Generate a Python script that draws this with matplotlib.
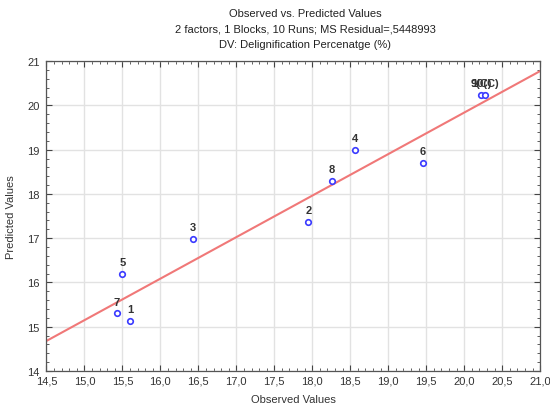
import matplotlib
matplotlib.use("Agg")
import matplotlib.pyplot as plt
import numpy as np
from matplotlib.ticker import MultipleLocator, FuncFormatter

plt.rcParams['font.family'] = ['Liberation Sans', 'DejaVu Sans']

run_labels = ["1", "2", "3", "4", "5", "6", "7", "8", "9(C)", "10(C)"]
observed = [15.60, 17.95, 16.43, 18.56, 15.50, 19.46, 15.43, 18.26, 20.22, 20.27]
predicted = [15.14, 17.36, 16.98, 19.00, 16.19, 18.69, 15.30, 18.30, 20.24, 20.24]

title_lines = ["Observed vs. Predicted Values",
               "2 factors, 1 Blocks, 10 Runs; MS Residual=,5448993",
               "DV: Delignification Percenatge (%)"]

fig = plt.figure(figsize=(5.5, 4.14), dpi=100)
ax = fig.add_axes([0.0845, 0.1014, 0.8975, 0.7486])

xmin, xmax = 14.5, 21.0
ax.set_xlim(xmin, xmax)
ax.set_ylim(14, 21)

# regression line of predicted on observed
coef = np.polyfit(observed, predicted, 1)
xl = np.array([xmin, xmax])
ax.plot(xl, np.polyval(coef, xl), color='#f07878', lw=1.5, zorder=2)

ax.scatter(observed, predicted, s=16, facecolors='white', edgecolors='#3a3aff',
           linewidths=1.2, zorder=3)
for lab, xo, yo in zip(run_labels, observed, predicted):
    ax.annotate(lab, (xo, yo), xytext=(0, 5), textcoords='offset points',
                ha='center', va='bottom', fontsize=8, color='#333333',
                fontweight='bold', zorder=4)

ax.xaxis.set_major_locator(MultipleLocator(0.5))
ax.xaxis.set_minor_locator(MultipleLocator(0.1))
ax.yaxis.set_major_locator(MultipleLocator(1))
ax.yaxis.set_minor_locator(MultipleLocator(0.2))
ax.xaxis.set_major_formatter(FuncFormatter(lambda v, p: f"{v:.1f}".replace('.', ',')))
ax.yaxis.set_major_formatter(FuncFormatter(lambda v, p: f"{v:.0f}"))

ax.grid(True, which='major', color='#e2e2e2', lw=1.0)
ax.set_axisbelow(True)
ax.tick_params(which='both', direction='in', top=True, right=True,
               colors='#444444', labelcolor='#333333', labelsize=8)
ax.tick_params(which='major', length=4, width=0.8)
ax.tick_params(which='minor', length=2, width=0.6)
ax.tick_params(axis='y', pad=5)
for s in ax.spines.values():
    s.set_color('#555555')
    s.set_linewidth(0.9)

ax.set_xlabel("Observed Values", fontsize=8, color='#333333', labelpad=6)
ax.set_ylabel("Predicted Values", fontsize=8, color='#333333', labelpad=8)

fig.text(0.555, 0.978, "\n".join(title_lines), ha='center', va='top',
         fontsize=8, color='#222222', linespacing=1.65)

fig.savefig("out.png", dpi=100)
